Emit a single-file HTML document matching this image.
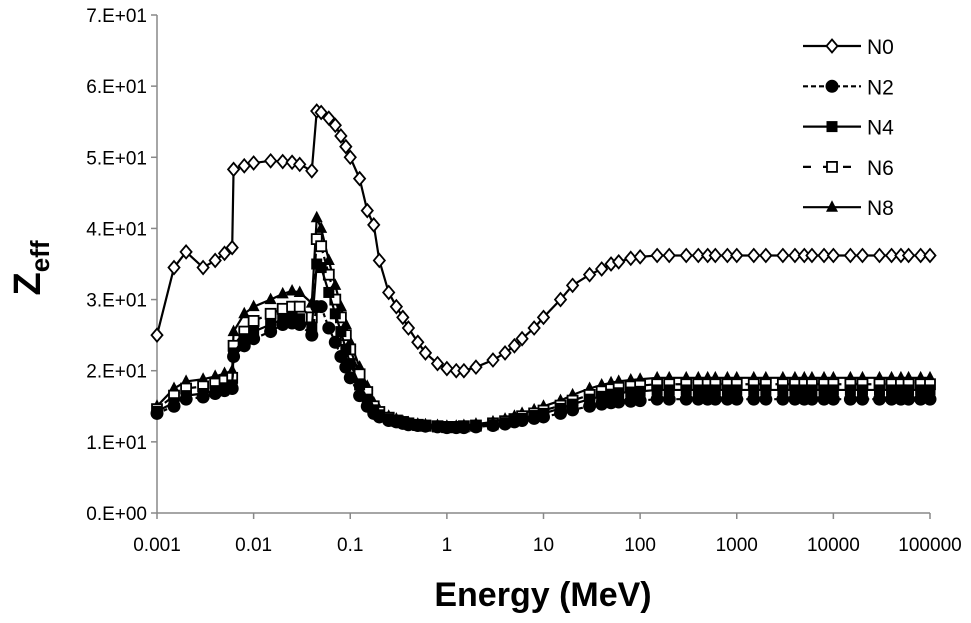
<!DOCTYPE html>
<html><head><meta charset="utf-8"><style>
body{margin:0;background:#fff;width:971px;height:618px;overflow:hidden}
svg{font-family:"Liberation Sans",sans-serif}
</style></head><body>
<svg id="chart" width="971" height="618" viewBox="0 0 971 618" xmlns="http://www.w3.org/2000/svg">
<g id="axes"></g>
<g id="series"></g>
<g id="legend"></g>
<text x="543" y="606" text-anchor="middle" font-size="34" font-weight="bold">Energy (MeV)</text>
<text transform="translate(40,268) rotate(-90)" text-anchor="middle" font-size="38" font-weight="bold">Z<tspan font-size="26" dy="9">eff</tspan></text>
</svg>
<script>
const energies=[0.001,0.0015,0.002,0.003,0.004,0.005,0.006,0.0062,0.008,0.01,0.015,0.02,0.025,0.03,0.04,0.045,0.05,0.06,0.07,0.08,0.09,0.1,0.125,0.15,0.175,0.2,0.25,0.3,0.35,0.4,0.5,0.6,0.8,1,1.25,1.5,2,3,4,5,6,8,10,15,20,30,40,50,60,80,100,150,200,300,400,500,600,800,1000,1500,2000,3000,4000,5000,6000,8000,10000,15000,20000,30000,40000,50000,60000,80000,100000];
const tail=n=>Array(24).fill(n);
const n0=[25,34.5,36.7,34.5,35.5,36.5,37.3,48.3,48.8,49.2,49.5,49.4,49.3,49.0,48.1,56.5,56.3,55.5,54.5,53,51.5,50,47,42.5,40.5,35.5,31,29,27.5,26,24,22.5,21,20.3,20,20,20.5,21.5,22.5,23.5,24.5,26,27.5,30,32,33.5,34.3,35,35.3,35.8,36].concat(tail(36.2));
const n2=[14,15,16,16.3,16.8,17.2,17.5,22,23.5,24.5,25.5,26.5,26.7,26.5,25,29,29,26,24,22,20.5,19,16.5,15,14,13.5,13,12.8,12.6,12.4,12.3,12.2,12.1,12,12,12,12.1,12.3,12.5,12.8,13,13.3,13.5,14,14.5,15,15.3,15.5,15.6,15.7,15.8].concat(tail(16));
const n4=[14.3,15.5,16.5,16.8,17.2,17.6,18,22.5,24.5,25.5,26.5,27.3,27.5,27.3,26,35,34.5,31,28,25.5,23,21,18,16,14.5,13.8,13.2,12.9,12.7,12.5,12.3,12.2,12.1,12,12,12.1,12.2,12.4,12.7,13,13.3,13.7,14,14.7,15.3,16,16.4,16.7,16.9,17,17.1].concat(tail(17.3));
const n6=[14.6,16.5,17.5,17.8,18.2,18.6,19,23.5,25.5,27,28,28.7,29,29,27.5,38.5,37.5,33.5,30,27.5,25,23,19.5,17,15,14.2,13.4,13,12.8,12.6,12.4,12.3,12.2,12.1,12.1,12.2,12.3,12.6,12.9,13.2,13.6,14,14.4,15.1,15.8,16.6,17.1,17.4,17.6,17.8,17.9].concat(tail(18.1));
const n8=[15,17.5,18.5,18.8,19.2,19.6,20,25.5,28,29,30,30.8,31.2,31,29.5,41.5,40,35.5,32,29,26.5,24,20.5,17.8,15.5,14.5,13.6,13.2,12.9,12.7,12.5,12.4,12.3,12.2,12.2,12.3,12.5,12.8,13.2,13.6,14,14.5,15,15.8,16.6,17.5,18,18.3,18.5,18.7,18.8].concat(tail(19));
const xTicks=[0.001,0.01,0.1,1,10,100,1000,10000,100000];
const xTickLabels=["0.001","0.01","0.1","1","10","100","1000","10000","100000"];
const yTicks=[0,10,20,30,40,50,60,70];
const yTickLabels=["0.E+00","1.E+01","2.E+01","3.E+01","4.E+01","5.E+01","6.E+01","7.E+01"];
const seriesNames=["N0","N2","N4","N6","N8"];

const X0=157,X1=930,Y0=513,Y1=15;
const xs=e=>X0+(Math.log10(e)+3)/8*(X1-X0);
const ys=v=>Y0-v/70*(Y0-Y1);
const NS="http://www.w3.org/2000/svg";
function mk(t,a,p){const e=document.createElementNS(NS,t);for(const k in a)e.setAttribute(k,a[k]);p.appendChild(e);return e;}
const axes=document.getElementById('axes');
let l=mk('line',{x1:X0,y1:Y1,x2:X0,y2:Y0,stroke:'#888','stroke-width':1.5},axes);


l=mk('line',{x1:X0,y1:Y0,x2:X1,y2:Y0,stroke:'#888','stroke-width':1.5},axes);


yTicks.forEach((v,i)=>{
  const t=mk('line',{x1:X0-6,y1:ys(v),x2:X0,y2:ys(v),stroke:'#888','stroke-width':1.5},axes);
  
  
  const tx=mk('text',{x:X0-10,y:ys(v)+7,'text-anchor':'end','font-size':19},axes);
  tx.textContent=yTickLabels[i];
  
  
});
xTicks.forEach((v,i)=>{
  const t=mk('line',{x1:xs(v),y1:Y0,x2:xs(v),y2:Y0+6,stroke:'#888','stroke-width':1.5},axes);
  
  
  const tx=mk('text',{x:xs(v),y:Y0+38,'text-anchor':'middle','font-size':19},axes);
  tx.textContent=xTickLabels[i];
  
  
});
function marker(kind,x,y,g){
  let m;
  if(kind==='diamond') m=mk('polygon',{points:`${x},${y-6.5} ${x+5.5},${y} ${x},${y+6.5} ${x-5.5},${y}`,fill:'#fff',stroke:'#000','stroke-width':1.8},g);
  else if(kind==='circle') m=mk('circle',{cx:x,cy:y,r:6.5,fill:'#000'},g);
  else if(kind==='square') m=mk('rect',{x:x-5.5,y:y-5.5,width:11,height:11,fill:'#000'},g);
  else if(kind==='osquare') m=mk('rect',{x:x-5,y:y-5,width:10,height:10,fill:'#fff',stroke:'#000','stroke-width':1.8},g);
  else m=mk('polygon',{points:`${x},${y-7} ${x+6},${y+4.5} ${x-6},${y+4.5}`,fill:'#000'},g);
  return m;
}
const defs=[["N8",n8,'tri',''],["N6",n6,'osquare','6,4'],["N4",n4,'square',''],["N2",n2,'circle','4,3'],["N0",n0,'diamond','']];
const sg=document.getElementById('series');
defs.forEach(([name,vals,kind,dash])=>{
  const g=mk('g',{},sg);
  
  
  const p=mk('polyline',{points:energies.map((e,i)=>xs(e)+','+ys(vals[i])).join(' '),fill:'none',stroke:'#000','stroke-width':2.2,'stroke-dasharray':dash},g);
  
  
  energies.forEach((e,i)=>{
    const m=marker(kind,xs(e),ys(vals[i]),g);
    
    
  });
});
const lg=document.getElementById('legend');
const lkinds=['diamond','circle','square','osquare','tri'];
const ldash=['','5,3','','8,12',''];
seriesNames.forEach((n,i)=>{
  const y=46+i*40.3;
  const g=mk('g',{},lg);
  
  
  mk('line',{x1:803,y1:y,x2:861,y2:y,stroke:'#000','stroke-width':2.2,'stroke-dasharray':ldash[i]},g);
  marker(lkinds[i],832,y,g);
  const t=mk('text',{x:867,y:y+8,'font-size':21},g);
  t.textContent=n;
});
</script>
</body></html>
